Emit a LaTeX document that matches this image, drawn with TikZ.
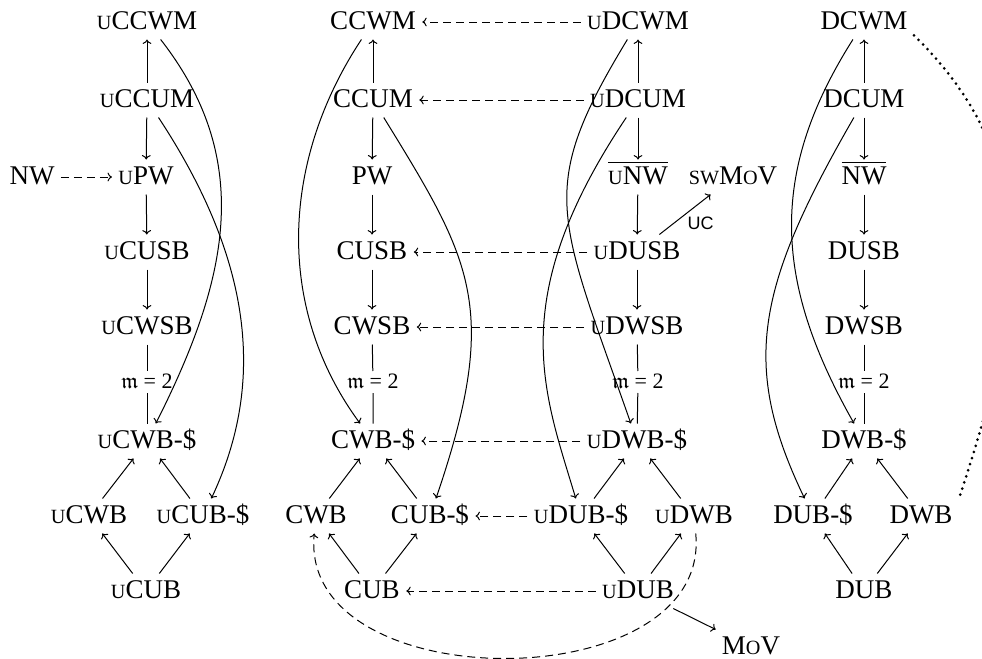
\documentclass[tikz,border=0pt]{standalone}
\usepackage{amssymb}
\usepackage{fontspec}
\setmainfont{Liberation Serif}
\newfontfamily\ucsans{Liberation Sans}
\usetikzlibrary{arrows.meta}
\newcommand\sck[1]{{\fontsize{10.1}{12}\selectfont #1}}
\begin{document}
\begin{tikzpicture}[x=0.5pt,y=-0.5pt,line width=0.5pt,
  lbl/.style={inner sep=3pt, text height=9pt, text depth=2pt, font=\fontsize{13.5}{16}\selectfont},
  mlbl/.style={inner sep=2pt, text height=6.5pt, text depth=0pt, font=\fontsize{11}{13}\selectfont},
  ar/.style={-{To[length=2.2pt,width=4.4pt]}},
  dsh/.style={ar, dash pattern=on 4pt off 2.5pt},
  dotc/.style={line width=1.5pt, line cap=round, dash pattern=on 0pt off 3.2pt}]
\useasboundingbox (0,0) rectangle (982,659);
% column 1
\node[lbl] (uCCWM) at (147,22) {\sck{U}CCWM};
\node[lbl] (uCCUM) at (147,100) {\sck{U}CCUM};
\node[lbl] (uPW) at (146,177) {\sck{U}PW};
\node[lbl] (NW) at (32,177) {NW};
\node[lbl] (uCUSB) at (147,252) {\sck{U}CUSB};
\node[lbl] (uCWSB) at (147,327) {\sck{U}CWSB};
\node[mlbl] (m1) at (147,382) {$\mathfrak{m}$ = 2};
\node[lbl] (uCWBd) at (147,441) {\sck{U}CWB-\$};
\node[lbl] (uCWB) at (89,516) {\sck{U}CWB};
\node[lbl] (uCUBd) at (203,516) {\sck{U}CUB-\$};
\node[lbl] (uCUB) at (146,591) {\sck{U}CUB};
% column 2
\node[lbl] (CCWM) at (373,22) {CCWM};
\node[lbl] (CCUM) at (373,100) {CCUM};
\node[lbl] (PW) at (372,177) {PW};
\node[lbl] (CUSB) at (372,252) {CUSB};
\node[lbl] (CWSB) at (372,327) {CWSB};
\node[mlbl] (m2) at (373,382) {$\mathfrak{m}$ = 2};
\node[lbl] (CWBd) at (373,441) {CWB-\$};
\node[lbl] (CWB) at (316,516) {CWB};
\node[lbl] (CUBd) at (430,516) {CUB-\$};
\node[lbl] (CUB) at (372,591) {CUB};
% column 3
\node[lbl] (uDCWM) at (638,22) {\sck{U}DCWM};
\node[lbl] (uDCUM) at (638,100) {\sck{U}DCUM};
\node[lbl] (uNW) at (638,177) {$\overline{\mbox{\sck{U}NW}}$};
\node[lbl] (swMoV) at (733,177) {\sck{SW}M\sck{O}V};
\node[lbl] (uDUSB) at (637,252) {\sck{U}DUSB};
\node[lbl] (uDWSB) at (637,327) {\sck{U}DWSB};
\node[mlbl] (m3) at (638,382) {$\mathfrak{m}$ = 2};
\node[lbl] (uDWBd) at (637,441) {\sck{U}DWB-\$};
\node[lbl] (uDUBd) at (581,516) {\sck{U}DUB-\$};
\node[lbl] (uDWB) at (694,516) {\sck{U}DWB};
\node[lbl] (uDUB) at (638,591) {\sck{U}DUB};
\node[lbl] (MoV) at (751,647) {M\sck{O}V};
% column 4
\node[lbl] (DCWM) at (864,22) {DCWM};
\node[lbl] (DCUM) at (864,100) {DCUM};
\node[lbl] (NWbar) at (864,177) {$\overline{\mbox{NW}}$};
\node[lbl] (DUSB) at (864,252) {DUSB};
\node[lbl] (DWSB) at (864,327) {DWSB};
\node[mlbl] (m4) at (864,382) {$\mathfrak{m}$ = 2};
\node[lbl] (DWBd) at (864,441) {DWB-\$};
\node[lbl] (DUBd) at (813,516) {DUB-\$};
\node[lbl] (DWB) at (921,516) {DWB};
\node[lbl] (DUB) at (864,591) {DUB};

% column 1 edges
\draw[ar] (uCCUM) -- (uCCWM);
\draw[ar] (uCCUM) -- (uPW);
\draw[dsh] (NW) -- (uPW);
\draw[ar] (uPW) -- (uCUSB);
\draw[ar] (uCUSB) -- (uCWSB);
\draw (uCWSB) -- (m1) -- (uCWBd);
\draw[ar] (uCWB) -- (uCWBd);
\draw[ar] (uCUBd) -- (uCWBd);
\draw[ar] (uCUB) -- (uCWB);
\draw[ar] (uCUB) -- (uCUBd);
\draw[ar] (uCCWM) .. controls (257,163) and (226,284) .. (uCWBd);
\draw[ar] (uCCUM) .. controls (251,258) and (267,381) .. (uCUBd);
% column 2 edges
\draw[ar] (CCUM) -- (CCWM);
\draw[ar] (CCUM) -- (PW);
\draw[ar] (PW) -- (CUSB);
\draw[ar] (CUSB) -- (CWSB);
\draw (CWSB) -- (m2) -- (CWBd);
\draw[ar] (CWB) -- (CWBd);
\draw[ar] (CUBd) -- (CWBd);
\draw[ar] (CUB) -- (CWB);
\draw[ar] (CUB) -- (CUBd);
\draw[ar] (CCWM) .. controls (281,161) and (275,308) .. (CWBd);
\draw[ar] (CCUM) .. controls (472,261) and (501,308) .. (CUBd);
% column 3 edges
\draw[ar] (uDCUM) -- (uDCWM);
\draw[ar] (uDCUM) -- (uNW);
\draw[ar] (uNW) -- (uDUSB);
\draw[ar] (uDUSB) -- (uDWSB);
\draw (uDWSB) -- (m3) -- (uDWBd);
\draw[ar] (uDUBd) -- (uDWBd);
\draw[ar] (uDWB) -- (uDWBd);
\draw[ar] (uDUB) -- (uDUBd);
\draw[ar] (uDUB) -- (uDWB);
\draw[ar] (uDCWM) .. controls (536,190) and (557,213) .. (uDWBd);
\draw[ar] (uDCUM) .. controls (504,300) and (544,392) .. (uDUBd);
\draw[ar] (uDUSB) -- node[below right, inner sep=1pt, font=\ucsans\fontsize{9}{10}\selectfont]{UC} (swMoV);
\draw[ar] (uDUB) -- (MoV);
% column 4 edges
\draw[ar] (DCUM) -- (DCWM);
\draw[ar] (DCUM) -- (NWbar);
\draw[ar] (NWbar) -- (DUSB);
\draw[ar] (DUSB) -- (DWSB);
\draw (DWSB) -- (m4) -- (DWBd);
\draw[ar] (DUBd) -- (DWBd);
\draw[ar] (DWB) -- (DWBd);
\draw[ar] (DUB) -- (DUBd);
\draw[ar] (DUB) -- (DWB);
\draw[ar] (DCWM) .. controls (767,175) and (775,284) .. (DWBd);
\draw[ar] (DCUM) .. controls (755,289) and (741,366) .. (DUBd);
% horizontal dashed
\draw[dsh] (uDCWM) -- (CCWM);
\draw[dsh] (uDCUM) -- (CCUM);
\draw[dsh] (uDUSB) -- (CUSB);
\draw[dsh] (uDWSB) -- (CWSB);
\draw[dsh] (uDWBd) -- (CWBd);
\draw[dsh] (uDUBd) -- (CUBd);
\draw[dsh] (uDUB) -- (CUB);
\draw[dsh] (uDWB) .. controls (712,700) and (298,700) .. (CWB);
% dotted
\draw[dotc] (DCWM.-15) .. controls (1051,169) and (1019,316) .. (DWB.north east);
\end{tikzpicture}
\end{document}
